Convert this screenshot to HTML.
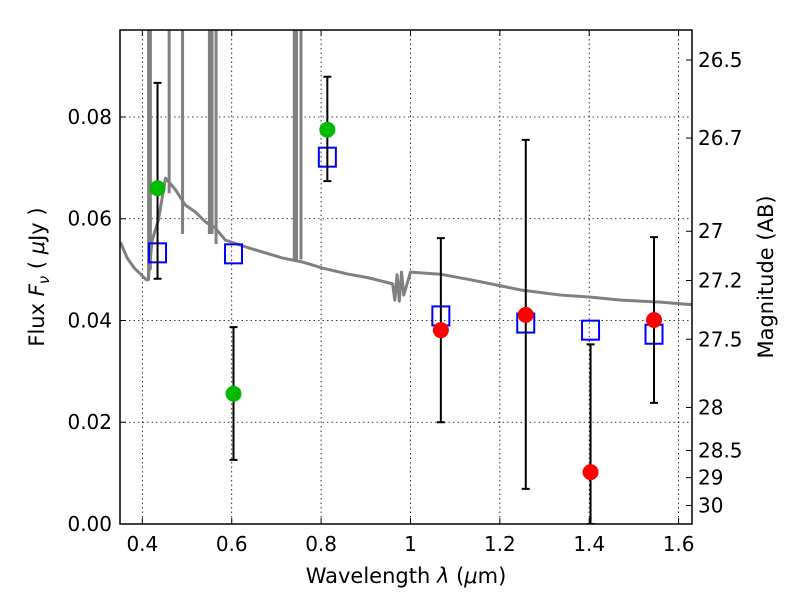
<!DOCTYPE html>
<html><head><meta charset="utf-8"><style>
body{margin:0;background:#fff}
svg text{font-family:"DejaVu Sans","Liberation Sans",sans-serif;fill:#000}
</style></head><body>
<svg id="chart" width="800" height="600" xmlns="http://www.w3.org/2000/svg">
<defs><clipPath id="clip"><rect x="120" y="30" width="572" height="494"/></clipPath></defs>
<rect width="800" height="600" fill="#fff"/>
<g id="grid"></g>
<g id="plot" clip-path="url(#clip)"></g>
<rect x="120" y="30" width="572" height="494" fill="none" stroke="#000" stroke-width="1.5"/>
<g id="axes"></g>
<text x="406" y="583" font-size="21" text-anchor="middle">Wavelength  <tspan font-style="italic">λ</tspan> (<tspan font-style="italic">μ</tspan>m)</text>
<text transform="translate(44,277) rotate(-90)" font-size="21" text-anchor="middle">Flux  <tspan font-style="italic">F</tspan><tspan font-style="italic" font-size="15" dy="5">ν</tspan><tspan dy="-5">  ( </tspan><tspan font-style="italic">μ</tspan>Jy )</text>
<text transform="translate(773,277) rotate(-90)" font-size="21" text-anchor="middle">Magnitude (AB)</text>
</svg>
<script>
const xTicks=[0.4,0.6,0.8,1.0,1.2,1.4,1.6];
const xTickLabels=["0.4","0.6","0.8","1","1.2","1.4","1.6"];
const yTicks=[0,0.02,0.04,0.06,0.08];
const yTickLabels=["0.00","0.02","0.04","0.06","0.08"];
const magTicks=[26.5,26.7,27,27.2,27.5,28,28.5,29,30];
const greenWl=[0.434,0.604,0.814];
const greenFlux=[0.0660,0.0256,0.0775];
const greenErrLo=[0.0482,0.0126,0.0674];
const greenErrHi=[0.0867,0.0387,0.0879];
const redWl=[1.068,1.258,1.403,1.545];
const redFlux=[0.0381,0.0411,0.0102,0.0401];
const redErrLo=[0.0200,0.0069,0.0,0.0238];
const redErrHi=[0.0562,0.0755,0.0353,0.0564];
const modelWl=[0.434,0.604,0.814,1.068,1.258,1.403,1.545];
const modelFlux=[0.0533,0.0531,0.0721,0.0409,0.0395,0.0381,0.0373];
const specWl=[0.351,0.366,0.382,0.409,0.413,0.422,0.436,0.452,0.474,0.496,0.519,0.541,0.563,0.586,0.637,0.713,0.758,0.803,0.861,0.906,0.960,0.965,0.970,0.975,0.980,0.985,1.000,1.067,1.135,1.202,1.247,1.336,1.403,1.471,1.560,1.631];
const specFlux=[0.0554,0.0523,0.0503,0.0480,0.0480,0.0558,0.0598,0.0680,0.0657,0.0627,0.0613,0.0594,0.0582,0.0558,0.0543,0.0523,0.0515,0.0503,0.0491,0.0484,0.0472,0.0440,0.0490,0.0438,0.0495,0.0450,0.0495,0.0491,0.0480,0.0468,0.0460,0.0450,0.0446,0.0440,0.0436,0.0431];
const spikeWl=[0.414,0.418,0.460,0.490,0.550,0.556,0.565,0.740,0.745,0.755];
const spikeBase=[0.048,0.050,0.065,0.057,0.057,0.057,0.055,0.052,0.052,0.052];

const X0=120,X1=692,Y0=524,Y1=30,xmin=0.35,xmax=1.63,ymin=0,ymax=0.0971;
const sx=v=>X0+(v-xmin)/(xmax-xmin)*(X1-X0);
const sy=v=>Y0-(v-ymin)/(ymax-ymin)*(Y0-Y1);
const NS="http://www.w3.org/2000/svg";
function mk(p,tag,attrs){const e=document.createElementNS(NS,tag);for(const k in attrs)e.setAttribute(k,attrs[k]);p.appendChild(e);return e;}
const grid=document.getElementById('grid'),plot=document.getElementById('plot'),axes=document.getElementById('axes');

xTicks.forEach((t,i)=>{const x=sx(t);
 const g=mk(grid,'line',{x1:x,x2:x,y1:Y1,y2:Y0,stroke:'#000','stroke-width':0.8,'stroke-dasharray':'1.5,3'});
 
 mk(axes,'line',{x1:x,x2:x,y1:Y0,y2:Y0-6,stroke:'#000'});mk(axes,'line',{x1:x,x2:x,y1:Y1,y2:Y1+6,stroke:'#000'});
 const l=mk(axes,'text',{x:x,y:Y0+27,'font-size':20,'text-anchor':'middle'});l.textContent=xTickLabels[i];
 });
yTicks.forEach((t,i)=>{const y=sy(t);
 if(t>0){const g=mk(grid,'line',{x1:X0,x2:X1,y1:y,y2:y,stroke:'#000','stroke-width':0.8,'stroke-dasharray':'1.5,3'});
 }
 mk(axes,'line',{x1:X0,x2:X0+6,y1:y,y2:y,stroke:'#000'});
 const l=mk(axes,'text',{x:X0-8,y:y+7,'font-size':20,'text-anchor':'end'});l.textContent=yTickLabels[i];
 });
magTicks.forEach(m=>{const f=Math.pow(10,(23.9-m)/2.5);const y=sy(f);
 mk(axes,'line',{x1:X1,x2:X1-6,y1:y,y2:y,stroke:'#000'});
 const l=mk(axes,'text',{x:X1+6,y:y+7,'font-size':20});l.textContent=String(m);
 });

spikeWl.forEach((w,i)=>{const s=mk(plot,'line',{x1:sx(w),x2:sx(w),y1:sy(spikeBase[i]),y2:0,stroke:'#808080','stroke-width':3});
 });
const sp=mk(plot,'polyline',{points:specWl.map((w,i)=>sx(w)+','+sy(specFlux[i])).join(' '),fill:'none',stroke:'#808080','stroke-width':3,'stroke-linejoin':'round'});


function errbar(w,lo,hi){const x=sx(w);
 const e=mk(plot,'path',{d:`M${x},${sy(lo)}V${sy(hi)}M${x-4},${sy(lo)}H${x+4}M${x-4},${sy(hi)}H${x+4}`,stroke:'#000','stroke-width':2,fill:'none'});
 }
modelWl.forEach((w,i)=>{const r=mk(plot,'rect',{x:sx(w)-8.5,y:sy(modelFlux[i])-9.5,width:17,height:19,fill:'none',stroke:'#0000ff','stroke-width':2});
 });
greenWl.forEach((w,i)=>{errbar(w,greenErrLo[i],greenErrHi[i]);
 const c=mk(plot,'circle',{cx:sx(w),cy:sy(greenFlux[i]),r:8,fill:'#00bb00'});
 });
redWl.forEach((w,i)=>{errbar(w,redErrLo[i],redErrHi[i]);
 const c=mk(plot,'circle',{cx:sx(w),cy:sy(redFlux[i]),r:8,fill:'#ff0000'});
 });
</script>
</body></html>
